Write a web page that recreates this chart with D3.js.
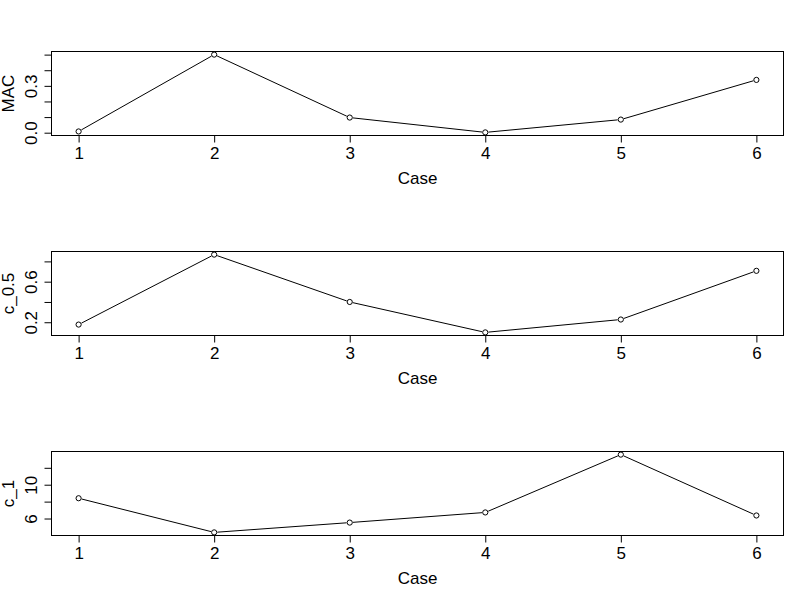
<!DOCTYPE html>
<html>
<head>
<meta charset="utf-8">
<script src="https://cdn.jsdelivr.net/npm/d3@7"></script>
<style>
  body { margin: 0; background: #fff; }
  svg { display: block; }
  text { font-family: "Liberation Sans", Arial, sans-serif; fill: #000; }
</style>
</head>
<body>
<svg id="chart" width="810" height="600"></svg>
<script>
// ---- data ----
const cases = [1, 2, 3, 4, 5, 6];
const macValues = [0.008, 0.500, 0.097, 0.002, 0.084, 0.338];
const c05Values = [0.177, 0.867, 0.400, 0.100, 0.227, 0.707];
const c1Values  = [8.40, 4.36, 5.52, 6.72, 13.56, 6.36];

const xTicks = [1, 2, 3, 4, 5, 6];
const macTicks = [0, 0.1, 0.2, 0.3, 0.4, 0.5];
const macTickLabels = ["0.0", "", "", "0.3", "", ""];
const c05Ticks = [0.2, 0.4, 0.6, 0.8];
const c05TickLabels = ["0.2", "", "0.6", ""];
const c1Ticks = [6, 8, 10, 12];
const c1TickLabels = ["6", "", "10", ""];

const panels = [
  { ylab: "MAC",   values: macValues, ticks: macTicks, labels: macTickLabels },
  { ylab: "c_0.5", values: c05Values, ticks: c05Ticks, labels: c05TickLabels },
  { ylab: "c_1",   values: c1Values,  ticks: c1Ticks,  labels: c1TickLabels }
];

// ---- layout ----
const svg = d3.select("#chart");
const panelH = 200;
const mLeft = 51.5, mRight = 783.5, mTop = 51.5, mBottom = 135.5;
const r = 2.6;
const fs = 17;

function padded(ext) {
  const d = ext[1] - ext[0];
  return [ext[0] - 0.04 * d, ext[1] + 0.04 * d];
}

const x = d3.scaleLinear().domain(padded(d3.extent(cases))).range([mLeft, mRight]);

panels.forEach((p, i) => {
  const g = svg.append("g").attr("transform", `translate(0,${i * panelH})`);
  const y = d3.scaleLinear().domain(padded(d3.extent(p.values))).range([mBottom, mTop]);

  // box
  g.append("rect")
    .attr("x", mLeft).attr("y", mTop)
    .attr("width", mRight - mLeft).attr("height", mBottom - mTop)
    .attr("fill", "none").attr("stroke", "#000").attr("stroke-width", 1);

  // x axis
  const xAxis = d3.axisBottom(x).tickValues(xTicks).tickSize(7).tickPadding(4)
    .tickFormat(d3.format("d"));
  const gx = g.append("g").attr("transform", `translate(0,${mBottom})`).call(xAxis);
  gx.select(".domain").remove();
  gx.selectAll(".tick line").attr("stroke", "#000");
  gx.selectAll(".tick text")
    .attr("font-size", fs)
    .attr("font-family", "'Liberation Sans', Arial, sans-serif")
    .attr("fill", "#000")
    .attr("dy", null).attr("y", 23.8);

  // y axis
  const yAxis = d3.axisLeft(y).tickValues(p.ticks).tickSize(7)
    .tickFormat((d, k) => p.labels[k]);
  const gy = g.append("g").attr("transform", `translate(${mLeft},0)`).call(yAxis);
  gy.select(".domain").remove();
  gy.selectAll(".tick line").attr("stroke", "#000");
  gy.selectAll(".tick text")
    .attr("font-size", fs)
    .attr("font-family", "'Liberation Sans', Arial, sans-serif")
    .attr("fill", "#000")
    .attr("x", null).attr("dy", null)
    .attr("text-anchor", "middle")
    .attr("transform", "translate(-14.3,0) rotate(-90)");

  // axis titles
  g.append("text")
    .attr("x", (mLeft + mRight) / 2).attr("y", 183.8)
    .attr("text-anchor", "middle").attr("font-size", fs)
    .text("Case");
  g.append("text")
    .attr("transform", `translate(13.5,${(mTop + mBottom) / 2}) rotate(-90)`)
    .attr("text-anchor", "middle").attr("font-size", fs)
    .text(p.ylab);

  // line segments with gaps at points (type = "b")
  const pts = cases.map((c, k) => [x(c), y(p.values[k])]);
  const segs = d3.pairs(pts).map(([a, b]) => {
    const dx = b[0] - a[0], dy = b[1] - a[1];
    const L = Math.hypot(dx, dy);
    const ux = dx / L, uy = dy / L;
    const gap = r + 0.6;
    return [a[0] + ux * gap, a[1] + uy * gap, b[0] - ux * gap, b[1] - uy * gap];
  });
  g.selectAll("line.seg").data(segs).enter().append("line")
    .attr("class", "seg")
    .attr("x1", d => d[0]).attr("y1", d => d[1])
    .attr("x2", d => d[2]).attr("y2", d => d[3])
    .attr("stroke", "#000").attr("stroke-width", 1);

  g.selectAll("circle").data(cases).enter().append("circle")
    .attr("cx", d => x(d))
    .attr("cy", (d, k) => y(p.values[k]))
    .attr("r", r)
    .attr("fill", "none").attr("stroke", "#000").attr("stroke-width", 1);
});
</script>
</body>
</html>
